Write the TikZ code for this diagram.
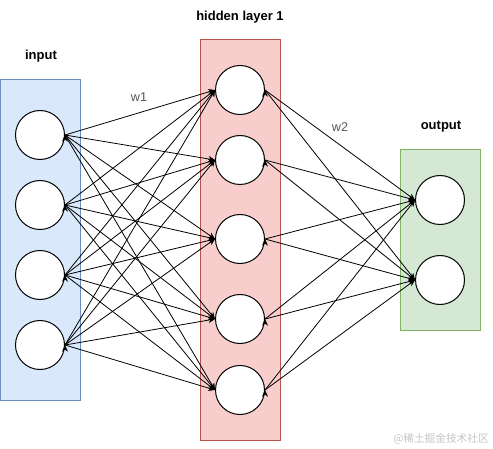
\documentclass[tikz,border=0pt]{standalone}
\usepackage{fontspec}
\setmainfont{Liberation Sans}
\newfontfamily\cjkfont{Noto Sans CJK SC}
\usetikzlibrary{arrows.meta}

\definecolor{inFill}{HTML}{DAE8FC}
\definecolor{inLine}{HTML}{6C8EBF}
\definecolor{hidFill}{HTML}{F8CECC}
\definecolor{hidLine}{HTML}{B85450}
\definecolor{outFill}{HTML}{D5E8D4}
\definecolor{outLine}{HTML}{82B366}
\definecolor{wText}{HTML}{555555}
\definecolor{markText}{HTML}{C4C4C4}

\tikzset{
  neuron/.style={circle, draw=black, fill=white, line width=0.75pt, minimum size=36.75pt, inner sep=0pt},
  layerbox/.style={line width=0.75pt},
  title/.style={font=\fontsize{9.75}{12}\selectfont\bfseries},
  weight/.style={font=\fontsize{9.5}{11}\selectfont, text=wText},
  seta/.style={-{Stealth[length=5pt,width=4.5pt]}, line width=0.6pt}
}

\begin{document}
\begin{tikzpicture}[x=0.75pt, y=-0.75pt]
    \useasboundingbox (0,0) rectangle (493,449);

    % Caixas das camadas
    \draw[layerbox, draw=inLine, fill=inFill] (0.5,80) rectangle (80,400);
    \draw[layerbox, draw=hidLine, fill=hidFill] (200,40) rectangle (280,440);
    \draw[layerbox, draw=outLine, fill=outFill] (400,150) rectangle (480,330);

    % Titulos das camadas
    \node[title] (tIn) at (41,56) {input};
    \node[title] (tHid) at (240,17) {hidden layer 1};
    \node[title] (tOut) at (441,127) {output};

    % Neuronios de entrada
    \node[neuron] (i1) at (40,135) {};
    \node[neuron] (i2) at (40,205) {};
    \node[neuron] (i3) at (40,275) {};
    \node[neuron] (i4) at (40,345) {};

    % Neuronios ocultos
    \node[neuron] (h1) at (240,90) {};
    \node[neuron] (h2) at (240,160) {};
    \node[neuron] (h3) at (240,239) {};
    \node[neuron] (h4) at (240,319) {};
    \node[neuron] (h5) at (240,390) {};

    % Neuronios de saida
    \node[neuron] (o1) at (440,200) {};
    \node[neuron] (o2) at (440,280) {};

    % Pesos
    \node[weight] (w1) at (139,97) {w1};
    \node[weight] (w2) at (340,127) {w2};

    % Ligacoes entrada -> oculta
    \draw[seta] (i1.east) edge (h1.west) edge (h2.west) edge (h3.west) edge (h4.west) edge (h5.west);
    \draw[seta] (i2.east) edge (h1.west) edge (h2.west) edge (h3.west) edge (h4.west) edge (h5.west);
    \draw[seta] (i3.east) edge (h1.west) edge (h2.west) edge (h3.west) edge (h4.west) edge (h5.west);
    \draw[seta] (i4.east) edge (h1.west) edge (h2.west) edge (h3.west) edge (h4.west) edge (h5.west);

    % Ligacoes oculta -> saida
    \draw[seta] (h1.east) edge (o1.west) edge (o2.west);
    \draw[seta] (h2.east) edge (o1.west) edge (o2.west);
    \draw[seta] (h3.east) edge (o1.west) edge (o2.west);
    \draw[seta] (h4.east) edge (o1.west) edge (o2.west);
    \draw[seta] (h5.east) edge (o1.west) edge (o2.west);

    % Marca d'agua
    \node[text=markText, font=\cjkfont\fontsize{8}{10}\selectfont, anchor=east, inner sep=0pt] (mark) at (489,439) {@稀土掘金技术社区};
  \end{tikzpicture}
\end{document}
